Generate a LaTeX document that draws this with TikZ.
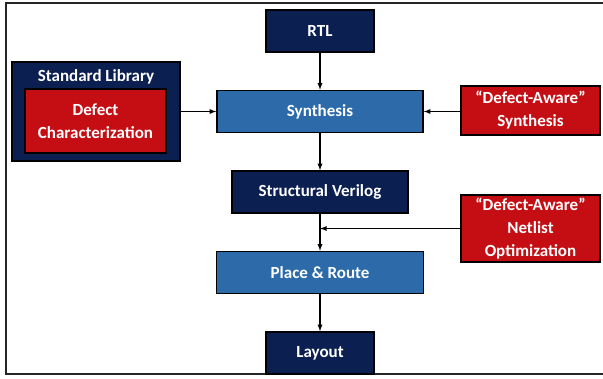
\documentclass[tikz,border=0pt]{standalone}
\usepackage{fontspec}
\setmainfont{Carlito}
\usetikzlibrary{positioning,arrows}

\definecolor{navy}{HTML}{0B1F51}
\definecolor{stepblue}{HTML}{2C6AAA}
\definecolor{defred}{HTML}{C40E14}

\tikzset{
  navybox/.style={draw=black,line width=1.5pt,fill=navy,text=white,minimum height=42pt,inner sep=0pt,align=center},
  bluebox/.style={draw=black,line width=1.5pt,fill=stepblue,text=white,minimum height=42pt,inner sep=0pt,align=center},
  redbox/.style={draw=black,line width=1.5pt,fill=defred,text=white,inner sep=0pt,align=center},
  flow/.style={->,>=latex,line width=1.3pt}
}

\begin{document}
\begin{tikzpicture}[x=1pt,y=-1pt,node distance=37pt,font=\fontsize{17}{23}\selectfont\bfseries]
\useasboundingbox (0,0) rectangle (603,379);
\draw[line width=1.5pt,color=black!85] (610,3) -- (6,3) -- (6,374) -- (610,374);

\node[navybox,minimum width=108pt] (0) at (320,31) {RTL};
\node[bluebox,minimum width=206pt] (1) [below=of 0] {Synthesis};
\node[navybox,minimum width=176pt] (2) [below=of 1] {Structural Verilog};
\node[bluebox,minimum width=207pt] (3) [below=of 2] {Place \& Route};
\node[navybox,minimum width=108pt] (4) [below=of 3] {Layout};

\node[navybox,minimum width=168pt,minimum height=99pt] (5) at (96,111.5) {};
\node[text=white] (5t) at (96,77) {Standard Library};
\node[redbox,minimum width=141pt,minimum height=64pt] (6) at (95.5,121) {Defect\\Characterization};

\node[redbox,minimum width=139pt,minimum height=49pt] (7) at (530.5,110.5) {“Defect-Aware”\\Synthesis};
\node[redbox,minimum width=139pt,minimum height=67pt] (8) at (530.5,228.5) {“Defect-Aware”\\Netlist\\Optimization};

\draw[flow] (0) -- (1);
\draw[flow] (1) -- (2);
\draw[flow] (2) -- (3);
\draw[flow] (3) -- (4);
\draw[flow] (5.east |- 1) -- (1);
\draw[flow] (7.west |- 1) -- (1);
\draw[flow] (8.west) -- (8.west -| 2.south);
\end{tikzpicture}
\end{document}
